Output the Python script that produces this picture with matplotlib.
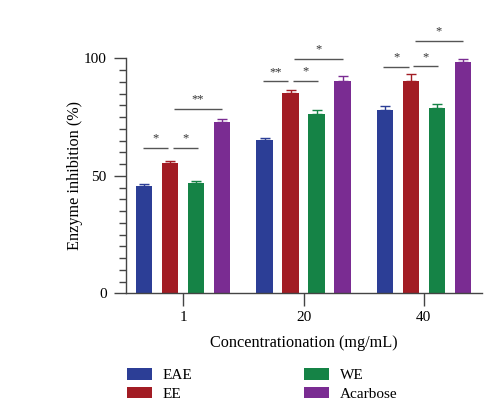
import matplotlib
matplotlib.use("Agg")
import matplotlib.pyplot as plt
import numpy as np

plt.rcParams['font.family'] = ['Liberation Serif', 'DejaVu Serif']

groups = ["1", "20", "40"]
series = ["EAE", "EE", "WE", "Acarbose"]
values = {
    "EAE": [45.8, 65.1, 78.2],
    "EE": [55.3, 85.4, 90.4],
    "WE": [47.0, 76.5, 79.0],
    "Acarbose": [72.9, 90.2, 98.6],
}
errors = {
    "EAE": [0.7, 1.0, 1.4],
    "EE": [1.0, 1.3, 2.8],
    "WE": [0.9, 1.5, 1.4],
    "Acarbose": [1.3, 2.1, 1.3],
}
colors = {"EAE": "#2C3E96", "EE": "#A21C24", "WE": "#158346", "Acarbose": "#7A2C92"}

# significance brackets: (group index, from bar, to bar, height, label)
brackets = [
    (0, 0, 1, 61.8, "*"), (0, 1, 2, 61.8, "*"), (0, 1, 3, 78.6, "**"),
    (1, 0, 1, 90.2, "**"), (1, 1, 2, 90.4, "*"), (1, 1, 3, 99.7, "*"),
    (2, 0, 1, 96.3, "*"), (2, 1, 2, 96.6, "*"), (2, 1, 3, 107.4, "*"),
]

fig = plt.figure(figsize=(4.95, 4.03), dpi=100)
ax = fig.add_axes([0.2545, 0.2722, 0.7192, 0.6531])

step = 0.216
width = 0.135
x = np.arange(len(groups))
offsets = (np.arange(len(series)) - 1.5) * step
for k, s in enumerate(series):
    xs = x + offsets[k]
    ax.bar(xs, values[s], width=width, color=colors[s], label=s,
           yerr=[np.zeros(len(groups)), errors[s]],
           error_kw=dict(ecolor=colors[s], elinewidth=1.0, capsize=3.5, capthick=1.0),
           zorder=2)

pads = {(0, 1): (-0.06, -0.08), (1, 2): (0.09, 0.06), (1, 3): (0.14, 0.0)}
for g, i, j, h, lab in brackets:
    ps, pe = pads[(i, j)]
    x0 = g + offsets[i] + ps * step
    x1 = g + offsets[j] + pe * step
    ax.plot([x0, x1], [h, h], color="#555555", lw=1.0, solid_capstyle="butt")
    ax.text((x0 + x1) / 2, h + 1.4, lab, ha="center", va="bottom",
            fontsize=9, color="#333333")

ax.set_xlim(-0.476, 2.483)
ax.set_ylim(0, 112)
ax.set_xticks(x)
ax.set_xticklabels(groups, fontsize=11)
ax.set_yticks([0, 50, 100])
ax.set_yticklabels(["0", "50", "100"], fontsize=11)
ax.set_yticks(np.arange(5, 100, 5), minor=True)
ax.tick_params(axis="y", which="major", length=9, width=1.0, color="#444444", pad=5)
ax.tick_params(axis="y", which="minor", length=5, width=1.0, color="#444444")
ax.tick_params(axis="x", which="major", length=9, width=1.0, color="#444444", pad=4)
for side in ["top", "right"]:
    ax.spines[side].set_visible(False)
ax.spines["left"].set_bounds(0, 100)
for side in ["left", "bottom"]:
    ax.spines[side].set_color("#444444")
    ax.spines[side].set_linewidth(1.0)

ax.set_xlabel("Concentrationation (mg/mL)", fontsize=11.7, labelpad=8)
ax.set_ylabel("Enzyme inhibition (%)", fontsize=11.7)
ax.yaxis.set_label_coords(-0.12, 50 / 112)

handles, labels = ax.get_legend_handles_labels()
fig.legend(handles, labels, ncol=2, loc="upper left",
           bbox_to_anchor=(0.256, 0.086), frameon=False, fontsize=11,
           handlelength=1.66, handleheight=0.78, handletextpad=0.69,
           columnspacing=7.3, labelspacing=0.3, borderpad=0, borderaxespad=0)

fig.savefig("out.png", dpi=100)
